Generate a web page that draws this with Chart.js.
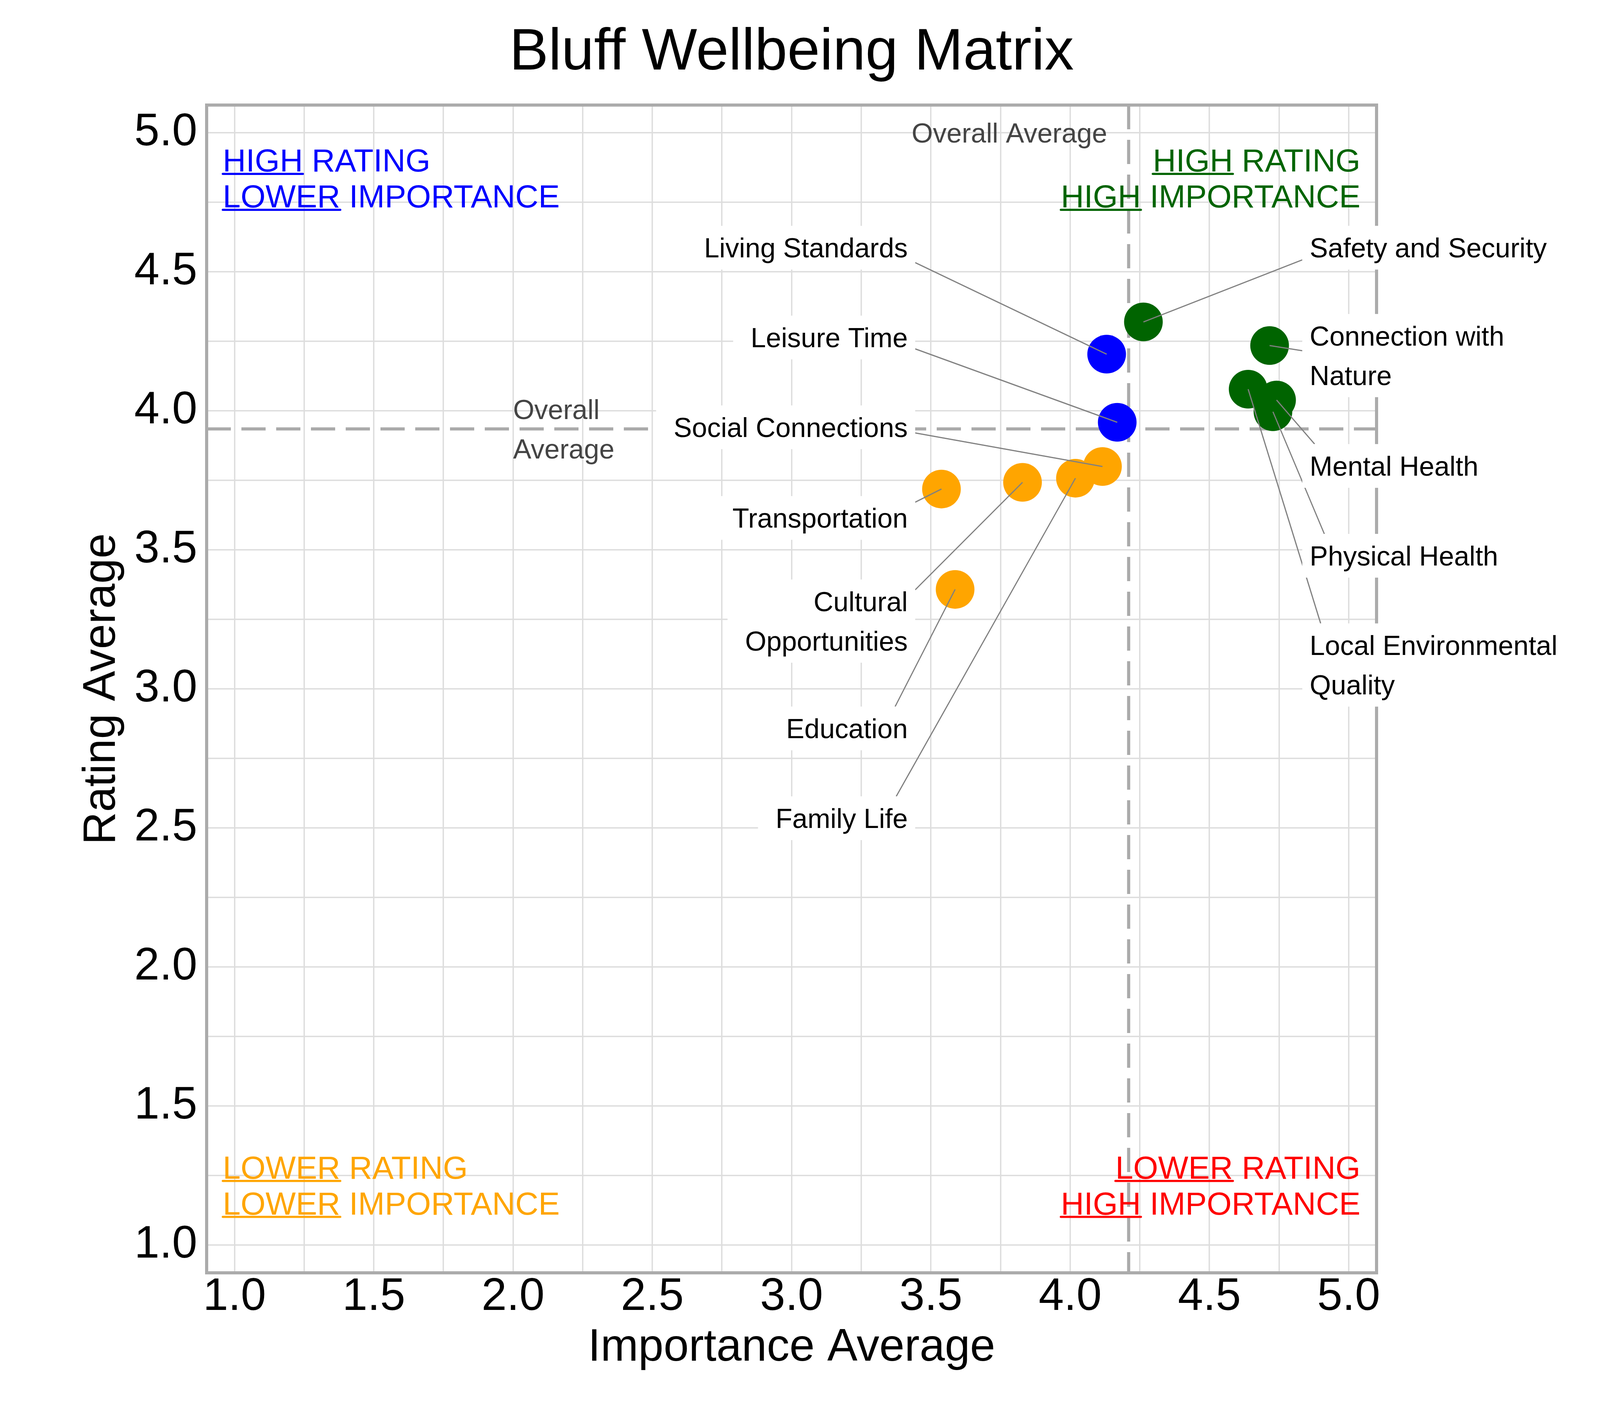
<!DOCTYPE html>
<html>
<head>
  <title>Bluff Wellbeing Matrix</title>
  <script src="https://cdn.jsdelivr.net/npm/chart.js"></script>
  <style>html, body { margin: 0; padding: 0; background: #fff; }</style>
</head>
<body>
  <canvas id="matrix" width="4200" height="3600"></canvas>
  <script>
    // values
    const categories = ['Safety and Security', 'Living Standards', 'Connection with Nature', 'Leisure Time',
      'Local Environmental Quality', 'Mental Health', 'Physical Health', 'Social Connections',
      'Family Life', 'Cultural Opportunities', 'Transportation', 'Education'];
    const importance = [4.263, 4.131, 4.716, 4.169, 4.639, 4.741, 4.728, 4.116, 4.019, 3.829, 3.538, 3.587];
    const rating     = [4.320, 4.204, 4.235, 3.959, 4.078, 4.039, 3.997, 3.800, 3.758, 3.743, 3.719, 3.358];
    const avgImportance = 4.21;
    const avgRating = 3.935;
    const tickLabels = ['1.0', '1.5', '2.0', '2.5', '3.0', '3.5', '4.0', '4.5', '5.0'];
    const gridSteps = [1, 1.25, 1.5, 1.75, 2, 2.25, 2.5, 2.75, 3, 3.25, 3.5, 3.75, 4, 4.25, 4.5, 4.75, 5];

    // label placement (repelled labels), kept apart from the data
    const labelText = ['Safety and Security', 'Living Standards', 'Connection with\nNature', 'Leisure Time',
      'Local Environmental\nQuality', 'Mental Health', 'Physical Health', 'Social Connections',
      'Family Life', 'Cultural\nOpportunities', 'Transportation', 'Education'];
    const labelSide = ['right', 'left', 'right', 'left', 'right', 'right', 'right', 'left', 'left', 'left', 'left', 'left'];
    const labelY = [4.587, 4.587, 4.199, 4.264, 3.086, 3.802, 3.479, 3.941, 2.535, 3.244, 3.615, 2.858];
    const labelEdge = { left: 3.417, right: 4.860 };

    const quadrantNotes = [
      { first: ['HIGH', 'LOWER'], rest: [' RATING', ' IMPORTANCE'], color: '#0000FF', align: 'left', x: 0.958, y: 4.861 },
      { first: ['HIGH', 'HIGH'], rest: [' RATING', ' IMPORTANCE'], color: '#006400', align: 'right', x: 5.042, y: 4.861 },
      { first: ['LOWER', 'LOWER'], rest: [' RATING', ' IMPORTANCE'], color: '#FFA500', align: 'left', x: 0.958, y: 1.239 },
      { first: ['LOWER', 'HIGH'], rest: [' RATING', ' IMPORTANCE'], color: '#FF0000', align: 'right', x: 5.042, y: 1.239 }
    ];

    const FONT = '"Liberation Sans", Arial, sans-serif';
    Chart.defaults.font.family = FONT;

    const quadColor = (x, y) => {
      if (y >= avgRating) return x >= avgImportance ? '#006400' : '#0000FF';
      return x >= avgImportance ? '#FF0000' : '#FFA500';
    };
    const pointColors = importance.map((x, i) => quadColor(x, rating[i]));

    const fixTicks = s => { s.ticks = gridSteps.map(v => ({ value: v })); };
    const tickText = v => {
      const t = v.toFixed(1);
      return tickLabels.includes(t) && Math.abs(v * 2 - Math.round(v * 2)) < 1e-6 ? t : '';
    };

    // average lines and the panel frame, under the points
    const backdrop = {
      id: 'backdrop',
      beforeDatasetsDraw(chart) {
        const { ctx, chartArea: a, scales: { x, y } } = chart;
        ctx.save();
        ctx.strokeStyle = '#aaaaaa';
        ctx.lineWidth = 8;
        ctx.setLineDash([62, 27]);
        const yy = y.getPixelForValue(avgRating);
        ctx.beginPath(); ctx.moveTo(a.left, yy); ctx.lineTo(a.right, yy); ctx.stroke();
        const xx = x.getPixelForValue(avgImportance);
        ctx.beginPath(); ctx.moveTo(xx, a.top); ctx.lineTo(xx, a.bottom); ctx.stroke();
        ctx.setLineDash([]);
        ctx.strokeStyle = '#ababab';
        ctx.strokeRect(a.left, a.top, a.right - a.left, a.bottom - a.top);

        ctx.fillStyle = '#444444';
        ctx.font = '70px ' + FONT;
        ctx.textAlign = 'right';
        ctx.fillText('Overall Average', x.getPixelForValue(4.133), y.getPixelForValue(5.0) + 25);
        ctx.textAlign = 'left';
        ctx.fillText('Overall', x.getPixelForValue(2.0), yy - 50.5 + 25);
        ctx.fillText('Average', x.getPixelForValue(2.0), yy + 50.5 + 25);
        ctx.restore();
      }
    };

    const labels = {
      id: 'labels',
      afterDatasetsDraw(chart) {
        const { ctx, scales: { x, y } } = chart;
        ctx.save();
        ctx.font = '70px ' + FONT;
        const boxes = categories.map((c, i) => {
          const lines = labelText[i].split('\n');
          const w = Math.max(...lines.map(l => ctx.measureText(l).width));
          const cy = y.getPixelForValue(labelY[i]);
          const half = (lines.length - 1) * 50.5 + 56;
          const side = labelSide[i];
          const edge = x.getPixelForValue(labelEdge[side]);
          const b = side === 'left'
            ? { x0: edge - w - 45, x1: edge + 19, ax: edge + 19 - 80 }
            : { x0: edge - 19, x1: edge + w + 45, ax: edge - 19 + 80 };
          Object.assign(b, { y0: cy - half, y1: cy + half, cy, lines, side, edge });
          return b;
        });
        // leader segments
        ctx.strokeStyle = '#808080';
        ctx.lineWidth = 3;
        boxes.forEach((b, i) => {
          const px = x.getPixelForValue(importance[i]);
          const py = y.getPixelForValue(rating[i]);
          const dx = px - b.ax, dy = py - b.cy;
          const tx = dx > 0 ? (b.x1 - b.ax) / dx : dx < 0 ? (b.x0 - b.ax) / dx : Infinity;
          const ty = dy > 0 ? (b.y1 - b.cy) / dy : dy < 0 ? (b.y0 - b.cy) / dy : Infinity;
          const t = Math.min(tx, ty);
          if (t >= 1) return;
          ctx.beginPath();
          ctx.moveTo(b.ax + t * dx, b.cy + t * dy);
          ctx.lineTo(px, py);
          ctx.stroke();
        });
        // label boxes and text
        boxes.forEach(b => {
          ctx.fillStyle = '#ffffff';
          ctx.fillRect(b.x0, b.y0, b.x1 - b.x0, b.y1 - b.y0);
          ctx.fillStyle = '#000000';
          ctx.textAlign = b.side === 'left' ? 'right' : 'left';
          const first = b.cy - (b.lines.length - 1) * 50.5;
          b.lines.forEach((l, k) => ctx.fillText(l, b.edge, first + k * 101 + 25));
        });

        // quadrant notes with underlined first word
        ctx.font = '82px ' + FONT;
        ctx.textAlign = 'left';
        ctx.lineCap = 'round';
        ctx.lineWidth = 5.5;
        quadrantNotes.forEach(q => {
          const ax = x.getPixelForValue(q.x);
          const base = y.getPixelForValue(q.y);
          ctx.fillStyle = q.color;
          ctx.strokeStyle = q.color;
          q.first.forEach((word, k) => {
            const ww = ctx.measureText(word).width;
            const full = ctx.measureText(word + q.rest[k]).width;
            const sx = q.align === 'left' ? ax : ax - full;
            const by = base + k * 92;
            ctx.fillText(word, sx, by);
            ctx.fillText(q.rest[k], sx + ww, by);
            ctx.beginPath();
            ctx.moveTo(sx, by + 6);
            ctx.lineTo(sx + ww, by + 6);
            ctx.stroke();
          });
        });
        ctx.restore();
      }
    };

    const gridOpts = { color: '#dddddd', lineWidth: 3.5, drawTicks: false };

    new Chart(document.getElementById('matrix'), {
      type: 'scatter',
      data: {
        datasets: [{
          data: importance.map((v, i) => ({ x: v, y: rating[i] })),
          backgroundColor: pointColors,
          borderWidth: 0,
          pointRadius: 49.5,
          pointHoverRadius: 49.5
        }]
      },
      options: {
        responsive: false,
        devicePixelRatio: 1,
        animation: false,
        events: [],
        layout: { padding: { left: 0, right: 676, top: 0, bottom: 0 } },
        plugins: {
          legend: { display: false },
          tooltip: { enabled: false },
          title: {
            display: true,
            text: 'Bluff Wellbeing Matrix',
            fullSize: false,
            color: '#000',
            font: { size: 150, weight: 'normal', lineHeight: 1.2 },
            padding: { top: 47, bottom: 42 }
          }
        },
        scales: {
          x: {
            type: 'linear',
            min: 0.9, max: 5.1,
            afterBuildTicks: fixTicks,
            afterFit: s => { s.height = 341; },
            grid: gridOpts,
            border: { display: false },
            ticks: {
              autoSkip: false, maxRotation: 0, minRotation: 0,
              padding: 5, color: '#000',
              font: { size: 116, lineHeight: 1 },
              callback: tickText
            },
            title: {
              display: true, text: 'Importance Average', color: '#000',
              font: { size: 116, lineHeight: 1.2 },
              padding: { top: 0, bottom: 78 }
            }
          },
          y: {
            type: 'linear',
            min: 0.9, max: 5.1,
            afterBuildTicks: fixTicks,
            afterFit: s => { s.width = 529; },
            grid: gridOpts,
            border: { display: false },
            ticks: {
              autoSkip: false, padding: 24, color: '#000',
              font: { size: 116, lineHeight: 1 },
              callback: tickText
            },
            title: {
              display: true, text: 'Rating Average', color: '#000',
              font: { size: 116, lineHeight: 1.2 },
              padding: { top: 192, bottom: 0 }
            }
          }
        }
      },
      plugins: [backdrop, labels]
    });
  </script>
</body>
</html>
